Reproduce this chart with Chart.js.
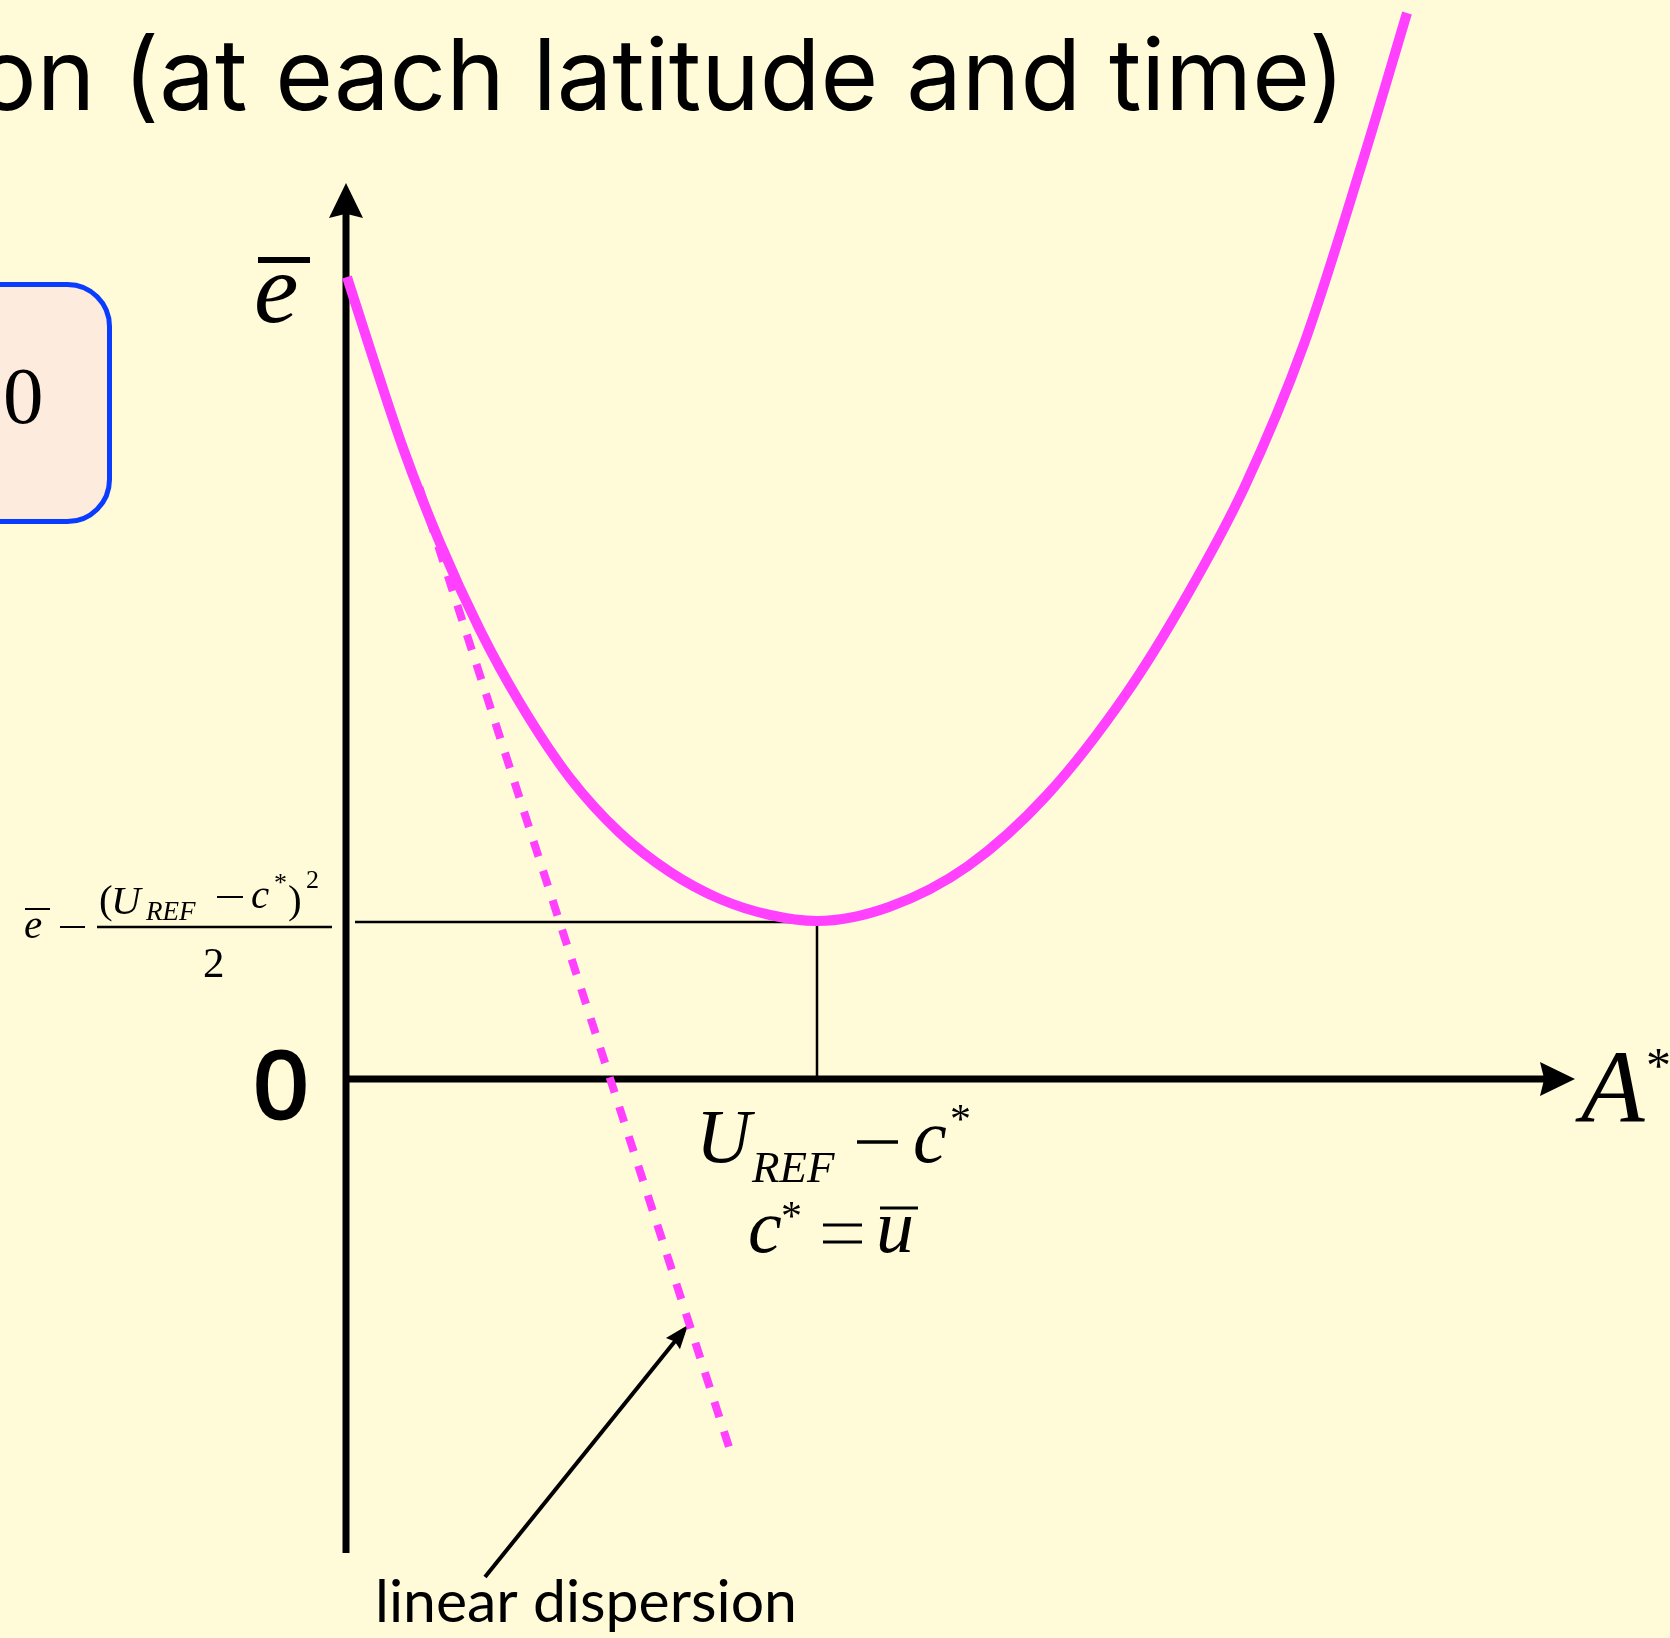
<!DOCTYPE html>
<html>
<head>
<meta charset="utf-8">
<script src="https://cdn.jsdelivr.net/npm/chart.js@4.4.0/dist/chart.umd.min.js"></script>
<style>
  html, body { margin: 0; padding: 0; background: #fffad7; }
  #chart { display: block; }
</style>
</head>
<body>
<canvas id="chart" width="1670" height="1638"></canvas>
<script>
// energy curve e(A*)
const curveA = [0.01, 0.27, 0.57, 0.94, 1.34, 1.74, 2.24, 2.74, 3.24, 3.74, 4.24, 4.71,
                5.43, 6.22, 7.01, 7.80, 8.39, 8.99, 9.58, 10.17, 10.61]
const curveE = [8.02, 7.21, 6.31, 5.36, 4.49, 3.76, 3.01, 2.46, 2.07, 1.80, 1.64, 1.58,
                1.72, 2.13, 2.84, 3.85, 4.80, 5.93, 7.35, 9.19, 10.66]

// linear dispersion (dashed tangent)
const linearA = [0.69, 3.83]
const linearE = [6.05, -3.68]

// minimum: A* = U_REF - c*, e = ebar - (U_REF - c*)^2 / 2
const minA = 4.71
const minE = 1.57
const refStartA = 0.09

// axes
const xAxisEnd = 12.29
const yAxisTop = 8.96
const yAxisBottom = -4.74

// pointer to the dashed line
const pointerFrom = [1.39, -4.98]
const pointerTo = [3.42, -2.46]

const PINK = '#ff40ff'
const SERIF = '"Liberation Serif", "Times New Roman", serif'

function pts(xs, ys) {
    return xs.map((v, i) => ({ x: v, y: ys[i] }))
}

function arrowHead(ctx, tx, ty, dx, dy, len, half) {
    const bx = tx - dx * len, by = ty - dy * len
    ctx.beginPath()
    ctx.moveTo(tx, ty)
    ctx.lineTo(bx - dy * half, by + dx * half)
    ctx.lineTo(bx + dx * len * 0.12, by + dy * len * 0.12)
    ctx.lineTo(bx + dy * half, by - dx * half)
    ctx.closePath()
    ctx.fill()
}

function line(ctx, x1, y1, x2, y2, w) {
    ctx.lineWidth = w
    ctx.beginPath()
    ctx.moveTo(x1, y1)
    ctx.lineTo(x2, y2)
    ctx.stroke()
}

function text(ctx, s, x, y, font, align) {
    ctx.font = font
    ctx.textAlign = align || 'left'
    ctx.fillText(s, x, y)
}

const drawing = {
    id: 'drawing',
    beforeDraw(chart) {
        const ctx = chart.ctx
        ctx.save()
        ctx.fillStyle = '#fffad7'
        ctx.fillRect(0, 0, chart.width, chart.height)

        // rounded box on the left edge
        ctx.fillStyle = '#fdebdd'
        ctx.strokeStyle = '#0a3cff'
        ctx.lineWidth = 5
        const bx = -20, by = 284.5, bw = 129.5, bh = 237, r = 42
        ctx.beginPath()
        ctx.moveTo(bx, by)
        ctx.lineTo(bx + bw - r, by)
        ctx.arcTo(bx + bw, by, bx + bw, by + r, r)
        ctx.lineTo(bx + bw, by + bh - r)
        ctx.arcTo(bx + bw, by + bh, bx + bw - r, by + bh, r)
        ctx.lineTo(bx, by + bh)
        ctx.closePath()
        ctx.fill()
        ctx.stroke()
        ctx.fillStyle = '#000'
        text(ctx, '0', 3, 423, `81px ${SERIF}`)

        // title line
        ctx.font = '104px Inter, "Noto Sans", sans-serif'
        const w = ctx.measureText('(at each latitude and time)').width
        const size = 104 * 1222 / w
        text(ctx, 'on (at each latitude and time)', 1345, 110, `${size}px Inter, "Noto Sans", sans-serif`, 'right')
        ctx.restore()
    },
    beforeDatasetsDraw(chart) {
        const { ctx, scales: { x, y } } = chart
        const ox = x.getPixelForValue(0), oy = y.getPixelForValue(0)
        ctx.save()
        ctx.strokeStyle = '#000'
        ctx.fillStyle = '#000'
        ctx.lineCap = 'butt'

        // vertical axis with arrow
        const top = y.getPixelForValue(yAxisTop)
        line(ctx, ox, y.getPixelForValue(yAxisBottom), ox, top + 30, 7)
        arrowHead(ctx, ox, top, 0, -1, 35, 17)

        // horizontal axis with arrow
        const right = x.getPixelForValue(xAxisEnd)
        line(ctx, ox - 3, oy, right - 30, oy, 7)
        arrowHead(ctx, right, oy, 1, 0, 35, 17)

        // pointer arrow for the dashed line
        const fx = x.getPixelForValue(pointerFrom[0]), fy = y.getPixelForValue(pointerFrom[1])
        const tx = x.getPixelForValue(pointerTo[0]), ty = y.getPixelForValue(pointerTo[1])
        const len = Math.hypot(tx - fx, ty - fy)
        const dx = (tx - fx) / len, dy = (ty - fy) / len
        line(ctx, fx, fy, tx - dx * 15, ty - dy * 15, 4)
        arrowHead(ctx, tx, ty, dx, dy, 24, 9)
        ctx.restore()
    },
    afterDraw(chart) {
        const ctx = chart.ctx
        ctx.save()
        ctx.fillStyle = '#000'
        ctx.strokeStyle = '#000'
        ctx.textBaseline = 'alphabetic'

        // e-bar on the vertical axis
        text(ctx, 'e', 254, 322, `italic 100px ${SERIF}`)
        line(ctx, 258, 260, 310, 260, 6)

        // origin, a little heavier than regular
        text(ctx, '0', 308, 1118, '97px "Liberation Sans", Arial, sans-serif', 'right')
        ctx.lineWidth = 3
        ctx.strokeText('0', 308, 1118)

        // ebar - (U_REF - c*)^2 / 2
        text(ctx, 'e', 24, 938, `italic 41px ${SERIF}`)
        line(ctx, 25, 909, 50, 909, 2)
        line(ctx, 60, 927, 85, 927, 2)
        line(ctx, 97, 927, 332, 927, 2.5)
        text(ctx, '(', 99, 913, `41px ${SERIF}`)
        text(ctx, 'U', 111, 914, `italic 41px ${SERIF}`)
        text(ctx, 'REF', 146, 920, `italic 27px ${SERIF}`)
        line(ctx, 217, 897, 243, 897, 2)
        text(ctx, 'c', 251, 908, `italic 41px ${SERIF}`)
        text(ctx, '*', 274, 891, `26px ${SERIF}`)
        text(ctx, ')', 288, 913, `41px ${SERIF}`)
        text(ctx, '2', 306, 888, `26px ${SERIF}`)
        text(ctx, '2', 203, 977, `43px ${SERIF}`)

        // U_REF - c*
        text(ctx, 'U', 696, 1162, `italic 76px ${SERIF}`)
        text(ctx, 'REF', 752, 1182, `italic 45px ${SERIF}`)
        line(ctx, 857, 1142, 898, 1142, 3.5)
        text(ctx, 'c', 913, 1162, `italic 76px ${SERIF}`)
        text(ctx, '*', 950, 1133, `42px ${SERIF}`)

        // c* = u-bar
        text(ctx, 'c', 748, 1252, `italic 76px ${SERIF}`)
        text(ctx, '*', 781, 1230, `42px ${SERIF}`)
        line(ctx, 823, 1225, 862, 1225, 3)
        line(ctx, 823, 1242, 862, 1242, 3)
        text(ctx, 'u', 876, 1252, `italic 76px ${SERIF}`)
        line(ctx, 880, 1208, 918, 1208, 3)

        // A*
        text(ctx, 'A', 1581, 1122, `italic 104px ${SERIF}`)
        text(ctx, '*', 1646, 1082, `50px ${SERIF}`)

        // note under the pointer
        ctx.font = '58px Lato, "Open Sans", sans-serif'
        const lw = ctx.measureText('linear dispersion').width
        text(ctx, 'linear dispersion', 375, 1622, `${58 * 422 / lw}px Lato, "Open Sans", sans-serif`)
        ctx.restore()
    }
}

new Chart(
    document.querySelector('#chart').getContext('2d'),
    {
        type: 'scatter',
        data: {
            datasets: [
                {
                    label: 'e(A*)',
                    data: pts(curveA, curveE),
                    showLine: true,
                    borderColor: PINK,
                    borderWidth: 10,
                    borderCapStyle: 'butt',
                    cubicInterpolationMode: 'monotone',
                    pointRadius: 0,
                    order: 0,
                },
                {
                    label: 'linear dispersion',
                    data: pts(linearA, linearE),
                    showLine: true,
                    borderColor: PINK,
                    borderWidth: 8,
                    borderDash: [16, 15],
                    borderDashOffset: 17,
                    borderCapStyle: 'butt',
                    pointRadius: 0,
                    order: 1,
                },
                {
                    label: 'minimum level',
                    data: pts([refStartA, minA, minA], [minE, minE, 0]),
                    showLine: true,
                    borderColor: '#000',
                    borderWidth: 2.5,
                    tension: 0,
                    pointRadius: 0,
                    order: 2,
                },
            ],
        },
        options: {
            responsive: false,
            animation: false,
            devicePixelRatio: 1,
            layout: { padding: 0 },
            plugins: {
                legend: { display: false },
                tooltip: { enabled: false },
            },
            scales: {
                x: { type: 'linear', min: -3.46, max: 13.24, display: false },
                y: { type: 'linear', min: -5.59, max: 10.79, display: false },
            },
        },
        plugins: [drawing],
    }
);
</script>
</body>
</html>
